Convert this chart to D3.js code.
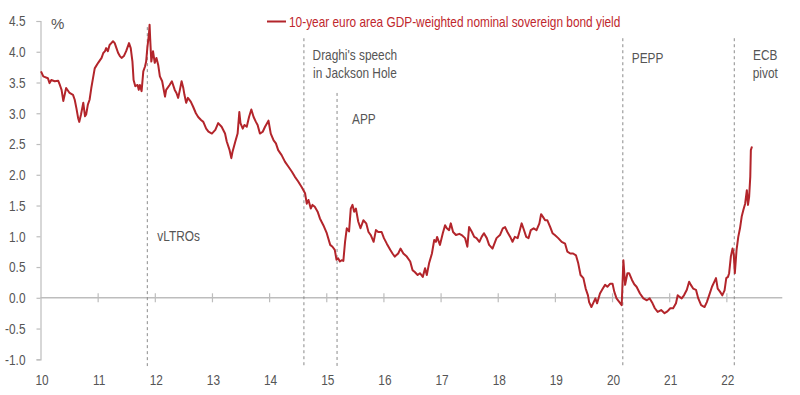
<!DOCTYPE html>
<html>
<head>
<meta charset="utf-8">
<script src="https://cdn.jsdelivr.net/npm/d3@7"></script>
<style>
  body { margin: 0; background: #fff; }
  svg { display: block; font-family: "Liberation Sans", Arial, sans-serif; }
</style>
</head>
<body>
<div id="chart"></div>
<script>
// 10y euro area GDP-weighted nominal sovereign bond yield, %
var dates = [
  2010.00,2010.04,2010.12,2010.15,2010.18,2010.24,2010.30,2010.33,2010.36,2010.39,2010.44,2010.50,2010.56,2010.59,2010.62,2010.65,2010.67,2010.70,2010.74,2010.77,
  2010.79,2010.82,2010.85,2010.88,2010.91,2010.94,2011.00,2011.06,2011.09,2011.12,2011.14,2011.17,2011.20,2011.23,2011.26,2011.29,2011.32,2011.35,2011.38,2011.41,
  2011.45,2011.49,2011.54,2011.57,2011.60,2011.62,2011.65,2011.69,2011.71,2011.73,2011.76,2011.79,2011.82,2011.84,2011.86,2011.89,2011.90,2011.91,2011.93,2011.96,
  2011.99,2012.02,2012.05,2012.08,2012.12,2012.17,2012.19,2012.25,2012.29,2012.34,2012.37,2012.40,2012.43,2012.46,2012.49,2012.51,2012.54,2012.57,2012.62,2012.66,
  2012.71,2012.75,2012.80,2012.84,2012.89,2012.93,2012.99,2013.05,2013.10,2013.16,2013.22,2013.25,2013.30,2013.33,2013.35,2013.40,2013.44,2013.47,2013.49,2013.53,
  2013.56,2013.60,2013.64,2013.68,2013.72,2013.76,2013.79,2013.83,2013.88,2013.92,2013.98,2014.02,2014.07,2014.11,2014.15,2014.21,2014.27,2014.33,2014.39,2014.44,
  2014.50,2014.56,2014.62,2014.65,2014.68,2014.72,2014.75,2014.79,2014.84,2014.88,2014.94,2015.00,2015.06,2015.10,2015.14,2015.17,2015.20,2015.23,2015.26,2015.29,
  2015.32,2015.35,2015.39,2015.42,2015.45,2015.48,2015.51,2015.55,2015.59,2015.64,2015.69,2015.73,2015.77,2015.82,2015.86,2015.90,2015.96,2016.00,2016.05,2016.11,
  2016.15,2016.19,2016.25,2016.29,2016.34,2016.40,2016.46,2016.50,2016.54,2016.59,2016.63,2016.68,2016.72,2016.75,2016.79,2016.84,2016.88,2016.91,2016.93,2016.98,
  2017.03,2017.07,2017.10,2017.14,2017.17,2017.21,2017.26,2017.32,2017.36,2017.42,2017.46,2017.49,2017.54,2017.58,2017.62,2017.67,2017.71,2017.75,2017.80,2017.84,
  2017.90,2017.97,2018.03,2018.08,2018.12,2018.16,2018.21,2018.25,2018.29,2018.34,2018.37,2018.41,2018.44,2018.49,2018.53,2018.57,2018.62,2018.67,2018.72,2018.75,
  2018.78,2018.82,2018.86,2018.91,2018.95,2018.99,2019.05,2019.11,2019.17,2019.21,2019.26,2019.31,2019.36,2019.40,2019.44,2019.49,2019.53,2019.57,2019.59,2019.63,
  2019.66,2019.70,2019.73,2019.78,2019.83,2019.87,2019.91,2019.96,2020.00,2020.03,2020.07,2020.12,2020.16,2020.19,2020.22,2020.26,2020.29,2020.34,2020.38,2020.42,
  2020.48,2020.54,2020.60,2020.65,2020.70,2020.74,2020.79,2020.85,2020.91,2020.96,2021.01,2021.06,2021.11,2021.14,2021.18,2021.21,2021.25,2021.30,2021.34,2021.37,
  2021.41,2021.46,2021.50,2021.55,2021.61,2021.65,2021.69,2021.74,2021.78,2021.81,2021.84,2021.88,2021.92,2021.96,2021.99,2022.02,2022.04,2022.07,2022.10,2022.12,
  2022.14,2022.17,2022.20,2022.23,2022.26,2022.29,2022.32,2022.35,2022.37,2022.39,2022.41,2022.42,2022.44
];
var yields = [
  3.68,3.60,3.57,3.49,3.54,3.52,3.53,3.46,3.38,3.20,3.41,3.33,3.30,3.22,3.08,2.92,2.86,2.98,3.17,2.95,
  2.98,3.14,3.22,3.41,3.57,3.73,3.82,3.90,3.98,4.01,4.06,4.01,4.11,4.14,4.17,4.14,4.06,3.98,3.93,3.90,
  3.93,4.01,4.14,4.06,3.84,3.54,3.44,3.46,3.38,3.46,3.36,3.68,3.76,3.84,4.06,4.30,4.44,4.22,3.84,4.01,
  3.82,3.90,3.79,3.60,3.52,3.27,3.38,3.46,3.52,3.38,3.33,3.25,3.38,3.52,3.41,3.30,3.17,3.25,3.19,3.11,
  3.00,2.94,2.89,2.86,2.75,2.70,2.67,2.73,2.84,2.78,2.67,2.54,2.40,2.27,2.37,2.54,2.67,3.02,2.84,2.75,
  2.81,2.78,2.94,3.06,2.94,2.86,2.81,2.67,2.70,2.78,2.88,2.67,2.56,2.51,2.40,2.32,2.21,2.13,2.05,1.97,
  1.89,1.80,1.70,1.53,1.59,1.45,1.51,1.48,1.40,1.29,1.18,1.05,0.86,0.83,0.78,0.62,0.64,0.59,0.61,0.60,
  0.91,1.13,1.08,1.45,1.51,1.40,1.45,1.24,1.13,1.26,1.21,1.07,1.02,0.91,1.10,1.07,1.07,0.97,0.88,0.78,
  0.72,0.67,0.72,0.80,0.72,0.67,0.59,0.45,0.42,0.37,0.40,0.34,0.48,0.37,0.56,0.72,0.94,0.91,0.99,0.86,
  1.05,1.18,1.13,1.10,1.21,1.07,1.02,1.04,1.02,0.97,0.83,1.15,1.07,0.99,0.97,0.91,0.99,1.05,0.97,0.86,
  0.80,0.97,1.02,1.13,1.15,1.07,0.99,0.91,0.99,0.97,1.07,1.21,1.13,0.99,0.97,1.10,1.13,1.10,1.21,1.36,
  1.32,1.26,1.26,1.15,1.05,1.02,0.97,0.91,0.88,0.75,0.72,0.72,0.69,0.56,0.37,0.32,0.15,0.04,-0.07,-0.15,
  -0.09,-0.01,-0.09,0.07,0.15,0.21,0.18,0.23,0.23,0.10,-0.01,-0.07,-0.12,0.61,0.21,0.40,0.40,0.29,0.22,0.18,
  0.07,-0.01,-0.04,-0.01,-0.09,-0.17,-0.23,-0.20,-0.25,-0.22,-0.17,-0.17,-0.09,0.04,0.01,-0.01,0.04,0.13,0.26,0.21,
  0.15,0.13,-0.01,-0.12,-0.15,-0.07,0.04,0.18,0.26,0.32,0.15,0.10,0.04,0.12,0.32,0.34,0.40,0.67,0.80,0.72,
  0.40,0.78,0.99,1.13,1.32,1.43,1.53,1.75,1.51,1.64,1.97,2.40,2.46
];

var yTicks = [-1.0, -0.5, 0.0, 0.5, 1.0, 1.5, 2.0, 2.5, 3.0, 3.5, 4.0, 4.5];
var xTicks = [2010, 2011, 2012, 2013, 2014, 2015, 2016, 2017, 2018, 2019, 2020, 2021, 2022];

var eventDates = [2011.86, 2014.60, 2015.18, 2020.18, 2022.13];
var eventTops = [4.40, 4.22, 3.33, 4.22, 4.22];
var eventLabels = [["vLTROs"], ["Draghi's speech", "in Jackson Hole"], ["APP"], ["PEPP"], ["ECB", "pivot"]];

var seriesName = "10-year euro area GDP-weighted nominal sovereign bond yield";

var W = 800, H = 395;
var red = "#b3252b", grey = "#bdbdbd", ink = "#555";
var fs = 15;

var x = d3.scaleLinear().domain([2010, 2023]).range([41, 784]);
var y = d3.scaleLinear().domain([-1, 4.5]).range([359.3, 21]);

var svg = d3.select("#chart").append("svg").attr("width", W).attr("height", H);

// squeeze a sans face to a narrow one
function narrow(sel) {
  sel.each(function() {
    var len = this.getComputedTextLength();
    d3.select(this).attr("textLength", len * 0.79).attr("lengthAdjust", "spacingAndGlyphs");
  });
}

// y axis
var yAxis = d3.axisLeft(y).tickValues(yTicks).tickSize(4).tickPadding(11);
var gy = svg.append("g").attr("transform", "translate(40.5,0)").call(yAxis);
gy.select(".domain").attr("stroke", grey).attr("stroke-width", 1.2);
gy.selectAll(".tick line").attr("stroke", grey).attr("stroke-width", 1.2);
gy.selectAll(".tick text").attr("fill", ink).attr("font-size", fs)
  .attr("font-family", "Liberation Sans")
  .text(function(d) { return d.toFixed(1); });
narrow(gy.selectAll(".tick text"));

// x axis drawn on the zero line
svg.append("line").attr("x1", 40.5).attr("x2", x(2022.97))
  .attr("y1", y(0)).attr("y2", y(0)).attr("stroke", grey).attr("stroke-width", 1.5);
svg.selectAll(".xtick").data(xTicks.slice(1)).enter().append("line")
  .attr("x1", function(d) { return x(d); }).attr("x2", function(d) { return x(d); })
  .attr("y1", y(0) - 4.5).attr("y2", y(0) + 4.5)
  .attr("stroke", grey).attr("stroke-width", 1.2);
var xl = svg.selectAll(".xlab").data(xTicks).enter().append("text")
  .attr("x", function(d) { return x(d) + 1; }).attr("y", 385)
  .attr("text-anchor", "middle").attr("fill", ink).attr("font-size", fs)
  .text(function(d) { return String(d).slice(2); });
narrow(xl);

// unit
svg.append("text").attr("x", 51).attr("y", 29).attr("fill", ink)
  .attr("font-size", fs).text("%");

// event markers
svg.selectAll(".event").data(eventDates).enter().append("line")
  .attr("x1", function(d) { return x(d); }).attr("x2", function(d) { return x(d); })
  .attr("y1", function(d, i) { return y(eventTops[i]); }).attr("y2", y(-1.11))
  .attr("stroke", "#8a8a8a").attr("stroke-width", 1).attr("stroke-dasharray", "3,3");

// label layout: [dx, anchor, first baseline value]
var labelLayout = [[10, "start", 0.93], [51, "middle", 3.87], [15, "start", 2.82], [9, "start", 3.82], [31, "middle", 3.87]];
eventLabels.forEach(function(lines, i) {
  var t = svg.append("text")
    .attr("x", x(eventDates[i]) + labelLayout[i][0])
    .attr("y", y(labelLayout[i][2]))
    .attr("text-anchor", labelLayout[i][1])
    .attr("fill", ink).attr("font-size", fs);
  lines.forEach(function(s, k) {
    t.append("tspan").attr("x", x(eventDates[i]) + labelLayout[i][0])
      .attr("dy", k === 0 ? 0 : 18.5).text(s);
  });
  narrow(t.selectAll("tspan"));
});

// series
var line = d3.line()
  .x(function(d, i) { return x(dates[i]); })
  .y(function(d) { return y(d); });
svg.append("path").datum(yields)
  .attr("d", line).attr("fill", "none")
  .attr("stroke", red).attr("stroke-width", 2).attr("stroke-linejoin", "round");

// legend
svg.append("line").attr("x1", 267).attr("x2", 286).attr("y1", 21.5).attr("y2", 21.5)
  .attr("stroke", red).attr("stroke-width", 2);
var lg = svg.append("text").attr("x", 289).attr("y", 27).attr("fill", "#c0272d")
  .attr("font-size", fs).text(seriesName);
narrow(lg);
</script>
</body>
</html>
